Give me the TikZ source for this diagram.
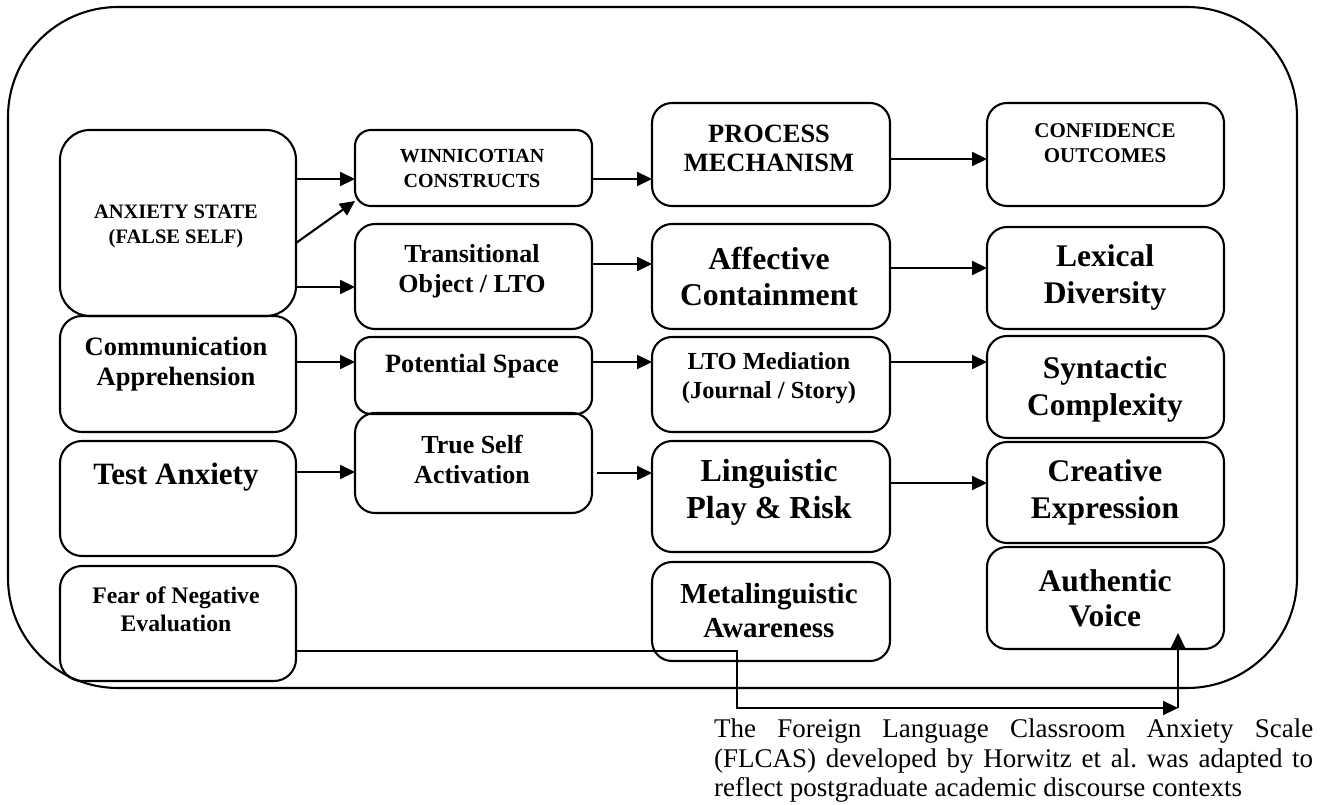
\documentclass[tikz,border=0pt]{standalone}
\usepackage{fontspec}
\setmainfont{Liberation Serif}
\usetikzlibrary{arrows.meta,fit}
\newcommand\fsz[2]{\fontsize{#1}{#2}\selectfont\bfseries}
\frenchspacing
\begin{document}
\begin{tikzpicture}[x=1pt,y=-1pt,
  box/.style={draw, line width=2.1pt, rounded corners=16pt, inner sep=0pt, outer sep=0pt},
  lbl/.style={align=center, inner sep=0pt},
  arr/.style={line width=2.1pt, -{Triangle[length=15pt,width=14pt]}}]
\fill[white] (0,0) rectangle (1325,805);
\useasboundingbox (0,0) rectangle (1325,805);
% frame
\node[draw, line width=2.1pt, rounded corners=110pt, inner sep=0pt, outer sep=0pt, fit={(8,7)(1297,688)}] (frame) {};
% column 1
\node[box, rounded corners=30pt, fit={(60,130)(296,316)}] (anx) {};
\node[box, rounded corners=22pt, fit={(60,316)(296,432)}] (comm) {};
\node[box, rounded corners=22pt, fit={(60,441)(296,556)}] (test) {};
\node[box, rounded corners=22pt, fit={(60,566)(296,681)}] (fear) {};
% column 2
\node[box, fit={(355,130)(592,206)}] (winn) {};
\node[box, rounded corners=20pt, fit={(355,224)(592,329)}] (trans) {};
\node[box, fit={(355,337)(592,414)}] (pot) {};
\node[box, rounded corners=20pt, fit={(355,413)(592,513)}] (true) {};
% column 3
\node[box, rounded corners=20pt, fit={(652,103)(890,206)}] (proc) {};
\node[box, rounded corners=20pt, fit={(652,224)(890,329)}] (aff) {};
\node[box, rounded corners=20pt, fit={(652,337)(890,432)}] (lto) {};
\node[box, rounded corners=20pt, fit={(652,441)(890,552)}] (ling) {};
\node[box, rounded corners=20pt, fit={(652,562)(890,661)}] (meta) {};
% column 4
\node[box, rounded corners=20pt, fit={(987,103)(1224,206)}] (conf) {};
\node[box, rounded corners=20pt, fit={(987,227)(1224,329)}] (lex) {};
\node[box, rounded corners=20pt, fit={(987,336)(1224,438)}] (syn) {};
\node[box, rounded corners=20pt, fit={(987,442)(1224,543)}] (cre) {};
\node[box, rounded corners=20pt, fit={(987,547)(1224,649)}] (auth) {};
% labels
\node[lbl, font=\fsz{20.5}{25}] (anx-t) at (176,226) {ANXIETY STATE\\(FALSE SELF)};
\node[lbl, font=\fsz{26.5}{30}] (comm-t) at (176,364) {Communication\\Apprehension};
\node[lbl, font=\fsz{31}{36}] (test-t) at (176,477) {Test Anxiety};
\node[lbl, font=\fsz{23.7}{28}] (fear-t) at (176,609) {Fear of Negative\\Evaluation};
\node[lbl, font=\fsz{20}{25}] (winn-t) at (472,168) {WINNICOTIAN\\CONSTRUCTS};
\node[lbl, font=\fsz{26}{30}] (trans-t) at (472,271) {Transitional\\Object / LTO};
\node[lbl, font=\fsz{26.4}{30}] (pot-t) at (472,366) {Potential Space};
\node[lbl, font=\fsz{26}{30}] (true-t) at (472,459) {True Self\\Activation};
\node[lbl, font=\fsz{26.4}{29}] (proc-t) at (769,148) {PROCESS\\MECHANISM};
\node[lbl, font=\fsz{31.7}{36}] (aff-t) at (769,276) {Affective\\Containment};
\node[lbl, font=\fsz{24.5}{29}] (lto-t) at (769,378) {LTO Mediation\\(Journal / Story)};
\node[lbl, font=\fsz{32}{37}] (ling-t) at (769,492) {Linguistic\\Play \& Risk};
\node[lbl, font=\fsz{29}{34}] (meta-t) at (769,611) {Metalinguistic\\Awareness};
\node[lbl, font=\fsz{21}{25}] (conf-t) at (1105,143) {CONFIDENCE\\OUTCOMES};
\node[lbl, font=\fsz{31.5}{37}] (lex-t) at (1105,277) {Lexical\\Diversity};
\node[lbl, font=\fsz{31.5}{37}] (syn-t) at (1105,389) {Syntactic\\Complexity};
\node[lbl, font=\fsz{31.5}{37}] (cre-t) at (1105,492) {Creative\\Expression};
\node[lbl, font=\fsz{31.5}{35}] (auth-t) at (1105,598) {Authentic\\Voice};
% arrows
\draw[arr] (anx.east |- 0,179) -- (winn.west |- 0,179);
\draw[arr] (anx.east |- 0,243) -- ([yshift=5pt]winn.south west);
\draw[arr] (anx.east |- 0,287) -- (trans.west |- 0,287);
\draw[arr] (comm.east |- 0,362) -- (pot.west |- 0,362);
\draw[arr] (test.east |- 0,472) -- (true.west |- 0,472);
\draw[arr] (winn.east |- 0,179) -- (proc.west |- 0,179);
\draw[arr] (trans.east |- 0,264) -- (aff.west |- 0,264);
\draw[arr] (pot.east |- 0,362) -- (lto.west |- 0,362);
\draw[arr] ([xshift=5pt]true.east |- 0,473) -- (ling.west |- 0,473);
\draw[arr] (proc.east |- 0,159) -- (conf.west |- 0,159);
\draw[arr] (aff.east |- 0,268) -- (lex.west |- 0,268);
\draw[arr] (lto.east |- 0,362) -- (syn.west |- 0,362);
\draw[arr] (ling.east |- 0,483) -- (cre.west |- 0,483);
\coordinate (bend) at (1178,708);
\coordinate (authtip) at (1178,633);
\draw[arr] (fear.east |- 0,651) -- (737,651) -- (737,708) -- (bend);
\draw[arr] (bend) -- (authtip);
% note
\node[anchor=north west, text width=599pt, align=justify, inner sep=0pt, font=\fontsize{27}{29.5}\selectfont] (note) at (714,719) {The Foreign Language Classroom Anxiety Scale\linebreak (FLCAS) developed by Horwitz et al. was adapted to\linebreak reflect postgraduate academic discourse contexts};
\end{tikzpicture}
\end{document}
